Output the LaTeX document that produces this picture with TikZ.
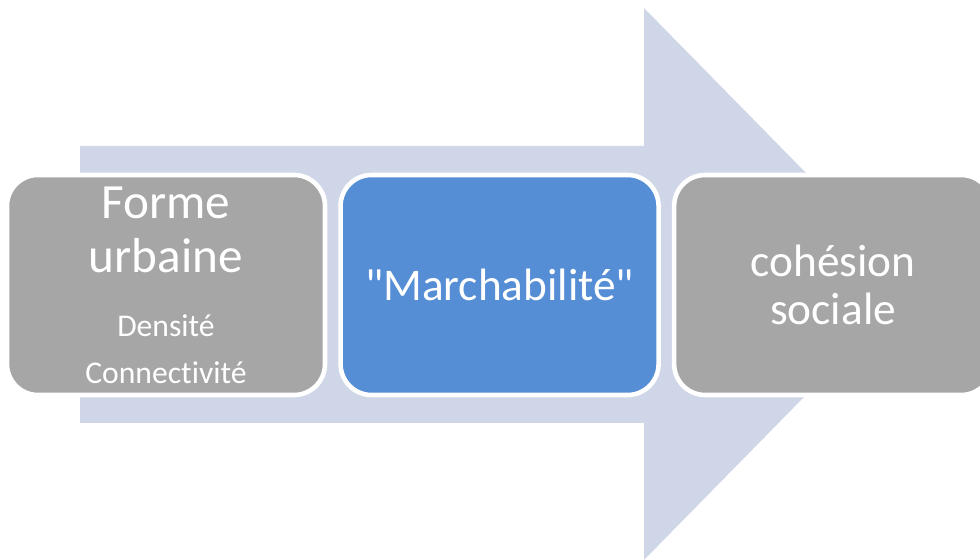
\documentclass[tikz,border=0pt]{standalone}
\usepackage{fontspec}
\setmainfont{Carlito}[Ligatures=NoCommon]
\usepackage{tikz}
\usetikzlibrary{positioning}
\definecolor{fleche}{HTML}{CFD6E7}
\definecolor{grisbox}{HTML}{A6A6A6}
\definecolor{bleubox}{HTML}{558ED5}
\newcommand{\grand}{\fontsize{28}{30.6}\selectfont}
\newcommand{\moyen}{\fontsize{25.8}{27.8}\selectfont}
\newcommand{\petit}{\fontsize{18}{26.6}\selectfont}
\tikzset{
etape/.style = { rectangle, draw = white, line width = 2.6pt, text = white, minimum width = 6.36cm, minimum height = 4.4cm, rounded corners = 0.62cm, align = center, font = \moyen },
etape grise/.style = { etape, fill = grisbox },
etape bleue/.style = { etape, fill = bleubox },
}

\begin{document}
\begin{tikzpicture}
    \useasboundingbox (0, 0) rectangle (19.6, 11.2);
    \path[fill = fleche] (1.6, 8.28) -- (12.88, 8.28) -- (12.88, 11.04) -- (18.3, 5.52) -- (12.88, 0) -- (12.88, 2.74) -- (1.6, 2.74) -- cycle;
    \node[etape grise, font = \grand] (forme) at (3.32, 5.5) {Forme\\urbaine\\[6pt]\petit Densité\\[-4pt]\petit Connectivité};
    \node[etape bleue, right = 0.22cm of forme] (marche) {\textquotedbl Marchabilité\textquotedbl};
    \node[etape grise, right = 0.22cm of marche] (cohesion) {cohésion\\sociale};
\end{tikzpicture}
\end{document}
